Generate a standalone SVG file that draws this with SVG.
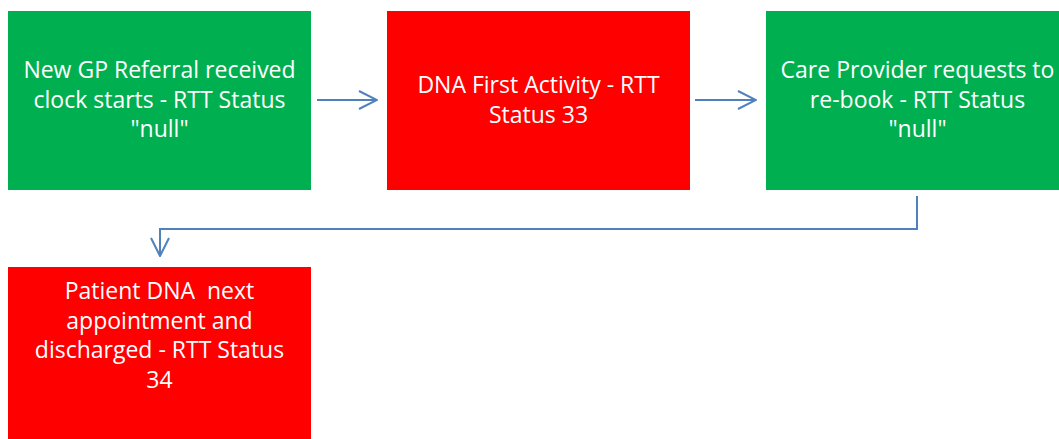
<svg xmlns="http://www.w3.org/2000/svg" width="1059" height="439" viewBox="0 0 1059 439">
<defs>
<style>
.green{fill:#00B050;}
.red{fill:#FF0000;}
.lbl{font-family:"Open Sans","Liberation Sans",sans-serif;font-size:23px;fill:#FFFFFF;text-anchor:middle;white-space:pre;}
.conn{fill:none;stroke:#4F81BD;stroke-width:2;}
</style>
<marker id="arr" viewBox="0 0 20 20" refX="19" refY="10" markerWidth="20" markerHeight="20" markerUnits="userSpaceOnUse" orient="auto">
<path d="M1,1 L19,10 L1,19" fill="none" stroke="#4F81BD" stroke-width="2"/>
</marker>
</defs>
<rect width="1059" height="439" fill="#FFFFFF"/>
<g id="node1">
<rect class="green" x="8" y="11" width="303" height="179"/>
<text class="lbl" x="159.5" y="78">New GP Referral received</text>
<text class="lbl" x="159.5" y="107.5">clock starts - RTT Status</text>
<text class="lbl" x="159.5" y="137">"null"</text>
</g>
<g id="node2">
<rect class="red" x="387" y="11" width="303" height="179"/>
<text class="lbl" x="538.5" y="93">DNA First Activity - RTT</text>
<text class="lbl" x="538.5" y="122.5">Status 33</text>
</g>
<g id="node3">
<rect class="green" x="766" y="11" width="303" height="179"/>
<text class="lbl" x="917.5" y="78">Care Provider requests to</text>
<text class="lbl" x="917.5" y="107.5">re-book - RTT Status</text>
<text class="lbl" x="917.5" y="137">"null"</text>
</g>
<g id="node4">
<rect class="red" x="8" y="267" width="303" height="179"/>
<text class="lbl" x="159.5" y="299" xml:space="preserve">Patient DNA  next</text>
<text class="lbl" x="159.5" y="328.5">appointment and</text>
<text class="lbl" x="159.5" y="358">discharged - RTT Status</text>
<text class="lbl" x="159.5" y="387.5">34</text>
</g>
<g id="connectors">
<path class="conn" d="M317,100 L377,100" marker-end="url(#arr)"/>
<path class="conn" d="M695,100 L756,100" marker-end="url(#arr)"/>
<path class="conn" d="M917,196 L917,229 L160,229 L160,256" marker-end="url(#arr)"/>
</g>
</svg>
